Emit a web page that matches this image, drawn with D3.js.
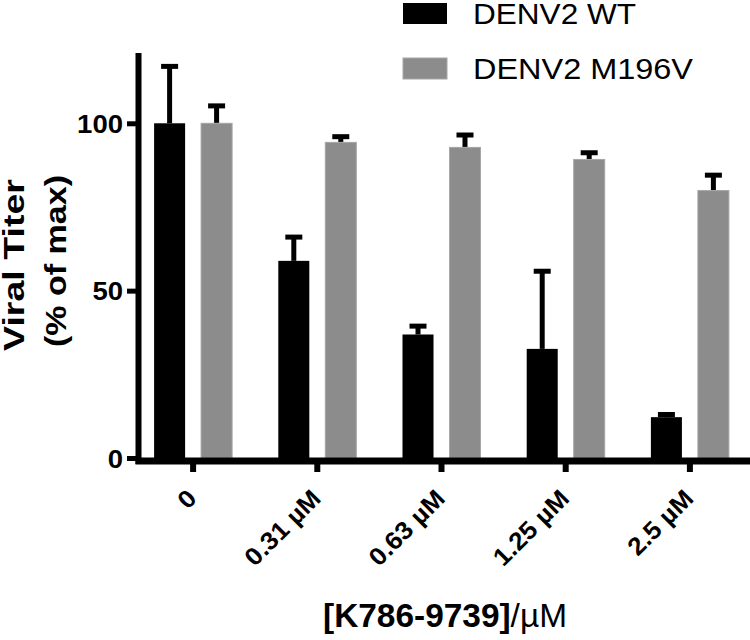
<!DOCTYPE html>
<html>
<head>
<meta charset="utf-8">
<script src="https://cdn.jsdelivr.net/npm/d3@7"></script>
<style>
  body { margin: 0; background: #fff; }
  svg { display: block; font-family: "Liberation Sans", Arial, sans-serif; }
</style>
</head>
<body>
<svg id="chart" width="750" height="640"></svg>
<script>
// ---- data ----
const categories = ["0", "0.31 µM", "0.63 µM", "1.25 µM", "2.5 µM"];
const seriesNames = ["DENV2 WT", "DENV2 M196V"];
const wtValues = [100, 58.9, 36.9, 32.6, 12.2];
const wtErrors = [17.0, 7.1, 2.5, 23.2, 0.8];
const mutValues = [100, 94.3, 92.8, 89.2, 79.9];
const mutErrors = [5.2, 1.7, 3.7, 2.0, 4.6];
const yTicks = [0, 50, 100];
const yTitle = ["Viral Titer", "(% of max)"];
const xTitleMain = "[K786-9739]";
const xTitleUnit = "/µM";

const colors = { "DENV2 WT": "#000000", "DENV2 M196V": "#8c8c8c" };

const seriesValues = { "DENV2 WT": wtValues, "DENV2 M196V": mutValues };
const seriesErrors = { "DENV2 WT": wtErrors, "DENV2 M196V": mutErrors };

const svg = d3.select("#chart");

function stretch(sel, factorOrLen, isAbs) {
  sel.each(function() {
    const n = this.getComputedTextLength();
    const target = isAbs ? factorOrLen : n * factorOrLen;
    d3.select(this).attr("textLength", target).attr("lengthAdjust", "spacingAndGlyphs");
  });
}

// ---- scales ----
const y = d3.scaleLinear().domain([0, 121]).range([458, 53]);
const x0 = d3.scaleBand().domain(categories).range([131, 752]).padding(0);
const half = 39;
const x1 = d3.scaleBand().domain(seriesNames)
  .range([x0.bandwidth() / 2 - half, x0.bandwidth() / 2 + half])
  .paddingInner(0.34).paddingOuter(0);

// ---- bars ----
const rows = [];
categories.forEach((c, i) => {
  seriesNames.forEach(s => {
    rows.push({ cat: c, series: s, value: seriesValues[s][i], err: seriesErrors[s][i] });
  });
});

const g = svg.append("g");
const cx = d => x0(d.cat) + x1(d.series) + x1.bandwidth() / 2;

const eb = g.selectAll("g.err").data(rows).enter().append("g").attr("class", "err");
eb.append("line")
  .attr("x1", cx).attr("x2", cx)
  .attr("y1", d => y(d.value))
  .attr("y2", d => y(d.value + d.err))
  .attr("stroke", "#000").attr("stroke-width", 5);
eb.append("line")
  .attr("x1", d => cx(d) - 8.5).attr("x2", d => cx(d) + 8.5)
  .attr("y1", d => y(d.value + d.err))
  .attr("y2", d => y(d.value + d.err))
  .attr("stroke", "#000").attr("stroke-width", 5);

g.selectAll("rect.bar").data(rows).enter().append("rect")
  .attr("class", "bar")
  .attr("x", d => x0(d.cat) + x1(d.series))
  .attr("width", x1.bandwidth())
  .attr("y", d => y(d.value))
  .attr("height", d => y(0) - y(d.value))
  .attr("fill", d => colors[d.series])
  .attr("stroke", d => d.series === "DENV2 WT" ? "none" : "#a6a6a6")
  .attr("stroke-width", 1);

// ---- axes ----
const yAxis = d3.axisLeft(y).tickValues(yTicks).tickSize(9).tickPadding(4).tickFormat(d3.format("d"));
const ya = svg.append("g").attr("transform", "translate(136,0)").call(yAxis);
ya.select(".domain").remove();
ya.selectAll(".tick line").attr("stroke", "#000").attr("stroke-width", 5);
ya.selectAll(".tick text")
  .attr("fill", "#000").attr("font-size", 25).attr("font-weight", "bold")
  .attr("dy", "0.36em")
  .call(stretch, 1.1, false);
svg.append("line").attr("x1", 138.5).attr("x2", 138.5)
  .attr("y1", y.range()[1]).attr("y2", 464)
  .attr("stroke", "#000").attr("stroke-width", 6);

const xAxis = d3.axisBottom(x0).tickSize(11).tickFormat("");
const xa = svg.append("g").attr("transform", "translate(0,461)").call(xAxis);
xa.select(".domain").remove();
xa.selectAll(".tick line").attr("stroke", "#000").attr("stroke-width", 6);
svg.append("line").attr("x1", 135.5).attr("x2", 750)
  .attr("y1", 461).attr("y2", 461)
  .attr("stroke", "#000").attr("stroke-width", 7);

// x tick labels
svg.append("g").selectAll("text").data(categories).enter().append("text")
  .attr("transform", d => `translate(${x0(d) + x0.bandwidth() / 2 + 5},500) rotate(-45)`)
  .attr("text-anchor", "end")
  .attr("font-size", 25).attr("font-weight", "bold").attr("fill", "#000")
  .text(d => d)
  .call(stretch, 1.05, false);

// x title
const xt = svg.append("text").attr("x", 445).attr("y", 627)
  .attr("text-anchor", "middle").attr("font-size", 33).attr("font-weight", "bold")
  .attr("fill", "#000");
xt.append("tspan").text(xTitleMain);
xt.append("tspan").attr("font-weight", "normal").text(xTitleUnit);
xt.call(stretch, 244, true);

// y title
svg.append("text").attr("transform", "translate(24,265) rotate(-90)")
  .attr("text-anchor", "middle").attr("font-size", 30).attr("font-weight", "bold")
  .attr("fill", "#000").text(yTitle[0])
  .call(stretch, 172, true);
svg.append("text").attr("transform", "translate(66,261) rotate(-90)")
  .attr("text-anchor", "middle").attr("font-size", 30).attr("font-weight", "bold")
  .attr("fill", "#000").text(yTitle[1])
  .call(stretch, 172, true);

// ---- legend ----
const legend = svg.append("g");
const legY = [3, 58];
const legLens = [163, 220];
seriesNames.forEach((s, i) => {
  legend.append("rect").attr("x", 403).attr("y", legY[i]).attr("width", 44).attr("height", 21)
    .attr("fill", colors[s]).attr("stroke", i === 0 ? "none" : "#a6a6a6");
  legend.append("text").attr("x", 473).attr("y", legY[i] + 21)
    .attr("font-size", 29).attr("fill", "#000").text(s)
    .call(stretch, legLens[i], true);
});
</script>
</body>
</html>
